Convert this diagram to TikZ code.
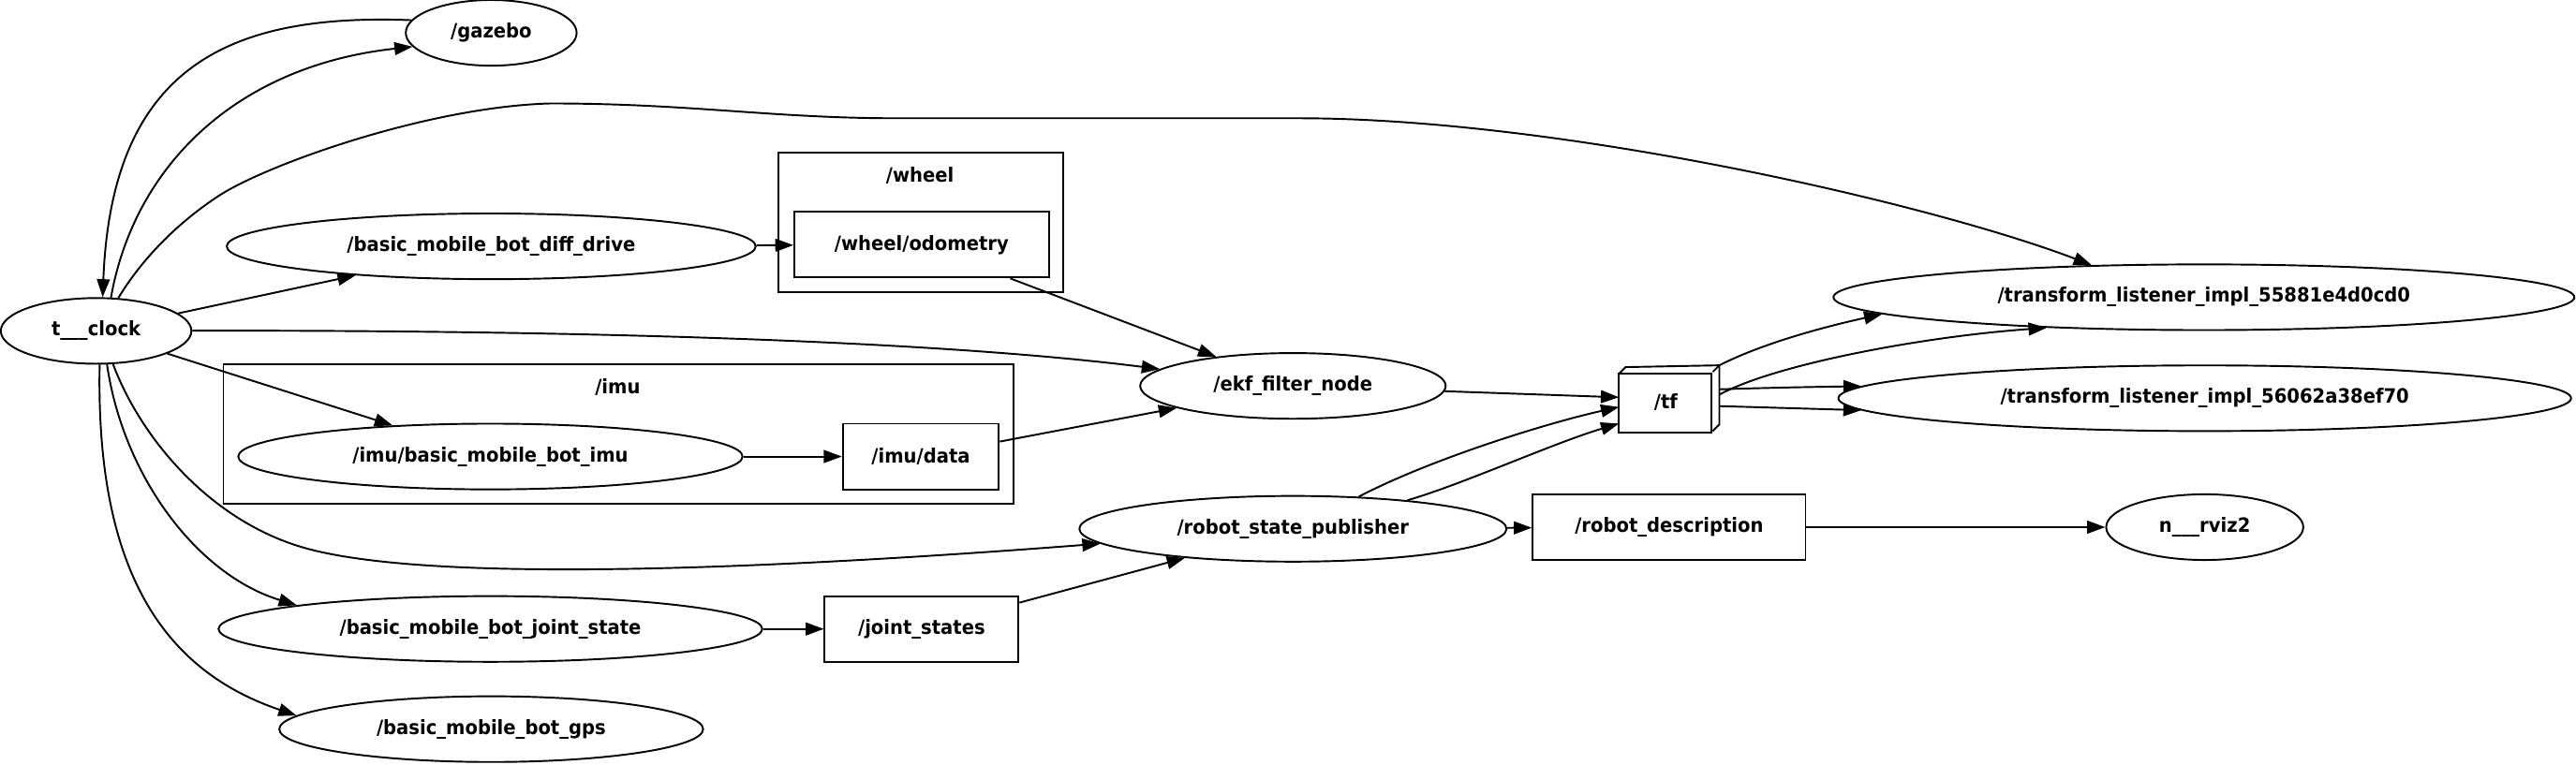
\documentclass[tikz,border=0pt]{standalone}
\usepackage{fontspec}
\setmainfont{DejaVu Sans}[FakeStretch=0.93]
\usetikzlibrary{shapes.geometric,arrows.meta}

\begin{document}
\begin{tikzpicture}[x=1pt,y=-1pt,line width=1.1pt,
    >={Triangle[length=11pt,width=7.8pt]},
    font=\fontsize{12}{14}\selectfont\bfseries]
    \path[fill=white,use as bounding box] (0,0) rectangle (1568,465.3);

    % clusters
    \draw (474,93) rectangle (647,178);
    \node (WheelLabel) at (560,107) {/wheel};
    \draw (136,222) rectangle (617,307);
    \node (ImuLabel) at (376,236) {/imu};

    \begin{scope}[every node/.style={ellipse,draw,inner sep=0pt,minimum height=40pt}]
        \node[minimum width=116pt] (Clock) at (58.5,201.5) {t\_\_\_clock};
        \node[minimum width=104pt] (Gazebo) at (299,20) {/gazebo};
        \node[minimum width=322pt] (Diff) at (299,150) {/basic\_mobile\_bot\_diff\_drive};
        \node[minimum width=186pt] (Ekf) at (787,235) {/ekf\_filter\_node};
        \node[minimum width=307pt] (ImuNode) at (298.5,278) {/imu/basic\_mobile\_bot\_imu};
        \node[minimum width=451pt] (TlA) at (1341.5,181) {/transform\_listener\_impl\_55881e4d0cd0};
        \node[minimum width=446pt] (TlB) at (1342,242.5) {/transform\_listener\_impl\_56062a38ef70};
        \node[minimum width=260pt] (Rsp) at (787,322) {/robot\_state\_publisher};
        \node[minimum width=120pt] (Rviz) at (1342,321) {n\_\_\_rviz2};
        \node[minimum width=331pt] (JointState) at (298.5,383) {/basic\_mobile\_bot\_joint\_state};
        \node[minimum width=258pt] (Gps) at (299,444) {/basic\_mobile\_bot\_gps};
    \end{scope}

    \begin{scope}[every node/.style={rectangle,draw,inner sep=0pt,minimum height=40pt}]
        \node[minimum width=155pt] (Odom) at (561,149) {/wheel/odometry};
        \node[minimum width=95pt] (ImuData) at (560.5,278) {/imu/data};
        \node[minimum width=166pt] (RobDesc) at (1016,321) {/robot\_description};
        \node[minimum width=118pt] (Joints) at (561,383) {/joint\_states};
        \node[draw=none,minimum width=60pt] (Tf) at (1016,243) {};
    \end{scope}

    % tf box
    \draw (Tf.south west) rectangle ++(56,-36);
    \draw (Tf.south west) ++(0,-36) -- ++(4,-4) -- (Tf.north east) -- ++(0,36) -- ++(-4,4);
    \draw (Tf.north east) -- ++(-4,4);
    \node (TfText) at (1014,245) {/tf};

    \begin{scope}
        \draw[->] (Clock.66) .. controls (82,100) and (145,40) .. (Gazebo.-170);
        \draw[->] (Gazebo.171) .. controls (140,8) and (68,40) .. (Clock.79);
        \draw[->] (Clock.56) .. controls (85,160) and (105,138) .. (132,120)
            .. controls (160,101) and (260,65) .. (335,63)
            .. controls (420,63) and (470,72) .. (545,72) -- (790,72)
            .. controls (950,72) and (1175,124) .. (TlA.164);
        \path[->] (Clock) edge (Diff);
        \draw[->] (Clock) .. controls (300,201) and (550,205) .. (Ekf);
        \path[->] (Clock) edge (ImuNode);
        \draw[->] (Clock.-63) .. controls (85,265) and (125,314) .. (180,332)
            .. controls (250,355) and (450,348) .. (Rsp);
        \draw[->] (Clock.-72) .. controls (75,290) and (120,350) .. (JointState.173.5);
        \draw[->] (Clock.-84) .. controls (58,355) and (105,410) .. (Gps.176.5);

        \path[->] (Diff) edge (Odom);
        \path[->] (Odom) edge (Ekf);
        \path[->] (ImuNode) edge (ImuData);
        \path[->] (ImuData) edge (Ekf);
        \path[->] (Ekf) edge (Tf);
        \draw[->] (Rsp.26) .. controls (870,280) and (940,258) .. (Tf.189.5);
        \draw[->] (Rsp.14) .. controls (890,295) and (945,270) .. (Tf.206.6);

        \draw[->] (Tf.north east) .. controls (1075,208) and (1115,198) .. (TlA.183.6);
        \draw[->] (Tf.5) .. controls (1080,222) and (1170,205) .. (TlA.191);
        \draw[->] (Tf.11) .. controls (1080,236) and (1110,235.5) .. (TlB.178);
        \path[->] (Tf.-8) edge (TlB.182.4);

        \path[->] (Rsp) edge (RobDesc);
        \path[->] (RobDesc) edge (Rviz);
        \path[->] (JointState) edge (Joints);
        \path[->] (Joints) edge (Rsp);
    \end{scope}
\end{tikzpicture}
\end{document}
